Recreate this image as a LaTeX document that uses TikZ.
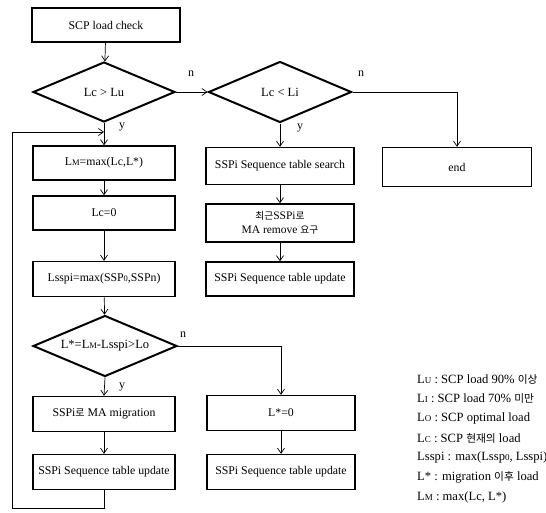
\documentclass[tikz,border=0pt]{standalone}
\usepackage{fontspec}
\setmainfont{Liberation Serif}
\newfontfamily\kr[Scale=0.85]{Noto Sans CJK KR}
\usetikzlibrary{shapes.geometric,arrows.meta}
\newcommand{\sm}[1]{{\fontsize{8.5pt}{9pt}\selectfont #1}}
\newcommand{\smb}[1]{{\fontsize{9pt}{10pt}\selectfont #1}}
\begin{document}
\begin{tikzpicture}[x=1pt,y=-1pt,
  box/.style={draw,line width=1.5pt,rectangle,inner sep=0pt,minimum width=142pt,minimum height=34pt,font=\fontsize{11.8pt}{13pt}\selectfont,align=center},
  dia/.style={draw,line width=2pt,diamond,inner sep=0pt,aspect=2.35,font=\fontsize{12.5pt}{13pt}\selectfont},
  conn/.style={line width=0.7pt,-{Straight Barb[length=5pt,width=7pt]}},
  line/.style={line width=0.7pt},
  lab/.style={font=\fontsize{12pt}{13pt}\selectfont,inner sep=0pt},
  leg/.style={anchor=west,inner sep=0pt,font=\fontsize{12.6pt}{14pt}\selectfont}]
\useasboundingbox (0,0) rectangle (546,512);
% left column
\node[box,minimum width=148pt] (start) at (106,25) {SCP load check};
\node[dia,minimum width=142pt,minimum height=60pt] (d1) at (104,92) {Lc > Lu};
\node[box] (lm) at (104,163) {L\sm{M}=max(Lc,L*)};
\node[box] (lc0) at (104,213) {Lc=0};
\node[box,minimum height=35pt] (lssp) at (104,279) {Lsspi=max(SSP\sm{0},SSPn)};
\node[dia,minimum width=144pt,minimum height=61pt] (d2) at (105,346) {L*=L\sm{M}-Lsspi>Lo};
\node[box,minimum height=35pt] (mig) at (104,414) {SSPi{\kr 로} MA migration};
\node[box,minimum height=35pt] (upd1) at (104,472) {SSPi Sequence table update};
% middle column
\node[dia,minimum width=143pt,minimum height=61pt] (d3) at (280,92) {Lc < Li};
\node[box,minimum width=148pt,minimum height=37pt] (search) at (280,166) {SSPi Sequence table search};
\node[box,minimum width=148pt,minimum height=38pt,font=\fontsize{11.5pt}{14pt}\selectfont] (remove) at (280,223) {{\kr 최근}SSPi{\kr 로}\\MA remove {\kr 요구}};
\node[box,minimum width=148pt,minimum height=34pt] (upd2) at (280,279) {SSPi Sequence table update};
\node[box,minimum width=148pt,minimum height=35pt] (lstar) at (281,413) {L*=0};
\node[box,minimum width=148pt,minimum height=35pt] (upd3) at (281,472) {SSPi Sequence table update};
% right
\node[box,minimum width=149pt,minimum height=39pt] (end) at (457,167) {end};
% connectors
\draw[conn] (start) -- (d1);
\draw[conn] (d1.east) -- (d3.west);
\node[lab] (n1) at (191,74) {n};
\draw[conn] (d1.south) -- (lm.north);
\node[lab] (y1) at (122,127) {y};
\draw[conn] (lm) -- (lc0);
\draw[conn] (lc0) -- (lssp);
\draw[conn] (lssp) -- (d2);
\draw[conn] (d2.south) -- (mig.north);
\node[lab] (y2) at (122,387) {y};
\draw[conn] (mig) -- (upd1);
\draw[conn] (d2.east) -| (lstar.north);
\node[lab] (n2) at (183,335) {n};
\draw[conn] (lstar) -- (upd3);
\draw[conn] (d3.south) -- (search.north);
\node[lab] (y3) at (300,128) {y};
\draw[conn] (search) -- (remove);
\draw[conn] (remove) -- (upd2);
\draw[conn] (d3.east) -| (end.north);
\node[lab] (n3) at (361,74) {n};
% loop back
\coordinate (loopin) at (104,132);
\coordinate (c1) at (104,508);
\coordinate (c2) at (12,508);
\coordinate (c3) at (12,132);
\draw[line] (upd1.south) -- (c1) -- (c2) -- (c3);
\draw[conn] (c3) -- (loopin);
% legend
\node[leg] (g1) at (417,379) {L\smb{U} : SCP load 90\% {\kr 이상}};
\node[leg] (g2) at (417,398.7) {L\smb{I} : SCP load 70\% {\kr 미만}};
\node[leg] (g3) at (417,418.4) {L\smb{O} : SCP optimal load};
\node[leg] (g4) at (417,438.1) {L\smb{C} : SCP {\kr 현재의} load};
\node[leg] (g5) at (417,457.8) {Lsspi : max(Lssp\smb{0}, Lsspi)};
\node[leg] (g6) at (417,477.5) {L* : migration {\kr 이후} load};
\node[leg] (g7) at (417,497.2) {L\smb{M} : max(Lc, L*)};
\end{tikzpicture}
\end{document}
